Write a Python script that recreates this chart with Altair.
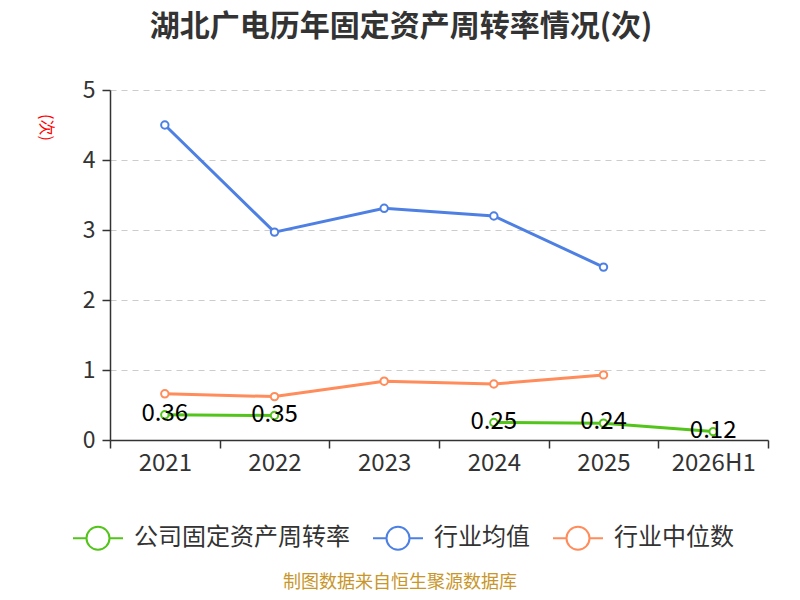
import altair as alt
import pandas as pd

years = ["2021", "2022", "2023", "2024", "2025", "2026H1"]
company = [0.36, 0.35, None, 0.25, 0.24, 0.12]
industry_avg = [4.5, 2.97, 3.31, 3.2, 2.47, None]
industry_median = [0.66, 0.62, 0.84, 0.80, 0.93, None]

series_names = ["公司固定资产周转率", "行业均值", "行业中位数"]
series_colors = ["#52C41A", "#4E80E4", "#FF8C5A"]

rows = []
for name, vals in zip(series_names, [company, industry_avg, industry_median]):
    for y, v in zip(years, vals):
        rows.append({"year": y, "series": name, "value": v})
df = pd.DataFrame(rows)

FONT = "Noto Sans CJK SC"

x_enc = alt.X(
    "year:N",
    sort=years,
    bandPosition=0.5,
    scale=alt.Scale(type="band", paddingInner=0, paddingOuter=0),
    axis=alt.Axis(
        title=None, labelAngle=0, labelFontSize=24, labelColor="#333333",
        labelPadding=3, tickBand="extent", tickSize=8, tickColor="#333333",
        domainColor="#333333", domainWidth=1.5, tickWidth=1.5, grid=False,
        labelFont=FONT,
    ),
)
y_enc = alt.Y(
    "value:Q",
    scale=alt.Scale(domain=[0, 5], nice=False),
    axis=alt.Axis(
        values=[0, 1, 2, 3, 4, 5], title="(次)", titleColor="#ff0000",
        titleFontSize=16, titleFontWeight="normal", titleAngle=90,
        titleX=-65, titleY=37, titleAlign="center", titleBaseline="middle",
        labelFontSize=23, labelColor="#333333", labelPadding=7,
        tickSize=8, tickColor="#333333", tickWidth=1.5, domainColor="#333333",
        domainWidth=1.5, gridColor="#cccccc", gridDash=[6, 5], gridWidth=1.2,
        labelFont=FONT, titleFont=FONT,
    ),
)
color_scale = alt.Scale(domain=series_names, range=series_colors)

legend_symbol = "M-1,0H-0.46M0.46,0H1M0.46,0A0.46,0.46,0,1,1,-0.46,0A0.46,0.46,0,1,1,0.46,0Z"

lines = alt.Chart(df).mark_line(
    strokeWidth=3, invalid="break-paths-show-domains"
).encode(
    x=x_enc,
    y=y_enc,
    color=alt.Color(
        "series:N", scale=color_scale, sort=series_names,
        legend=alt.Legend(
            title=None, orient="none", direction="horizontal",
            legendX=-38, legendY=422, symbolType=legend_symbol, symbolSize=2500,
            symbolFillColor="white", symbolStrokeWidth=2, labelFontSize=24,
            labelColor="#333333", labelFont=FONT, labelOffset=10, columnPadding=19,
            labelLimit=400,
        ),
    ),
)

points = alt.Chart(df).mark_point(
    filled=False, fill="white", fillOpacity=1, size=55, strokeWidth=2, opacity=1
).encode(
    x=x_enc,
    y=y_enc,
    color=alt.Color("series:N", scale=color_scale, legend=None),
).transform_filter("datum.value != null")

labels = alt.Chart(df).mark_text(
    fontSize=24, color="#000000", dy=-1, font=FONT
).encode(
    x=x_enc,
    y=y_enc,
    text=alt.Text("value:Q", format=".2f"),
).transform_filter(
    (alt.datum.series == series_names[0]) & (alt.datum.value != None)
)

source = alt.Chart(pd.DataFrame({"t": ["制图数据来自恒生聚源数据库"]})).mark_text(
    fontSize=18, color="#C8962A", font=FONT
).encode(
    text="t:N", x=alt.value(290), y=alt.value(493)
)

chart = alt.layer(lines, points, labels, source).properties(
    width=658,
    height=350,
    autosize=alt.AutoSizeParams(type="none"),
    padding={"left": 102, "top": 82, "right": 24, "bottom": 152},
    title=alt.TitleParams(
        "湖北广电历年固定资产周转率情况(次)", fontSize=30, fontWeight="bold",
        color="#333333", anchor="middle", dx=-38, offset=37, font=FONT,
    ),
).configure_view(stroke=None)

chart.save("out.html", embed_options={"renderer": "svg", "actions": False})
